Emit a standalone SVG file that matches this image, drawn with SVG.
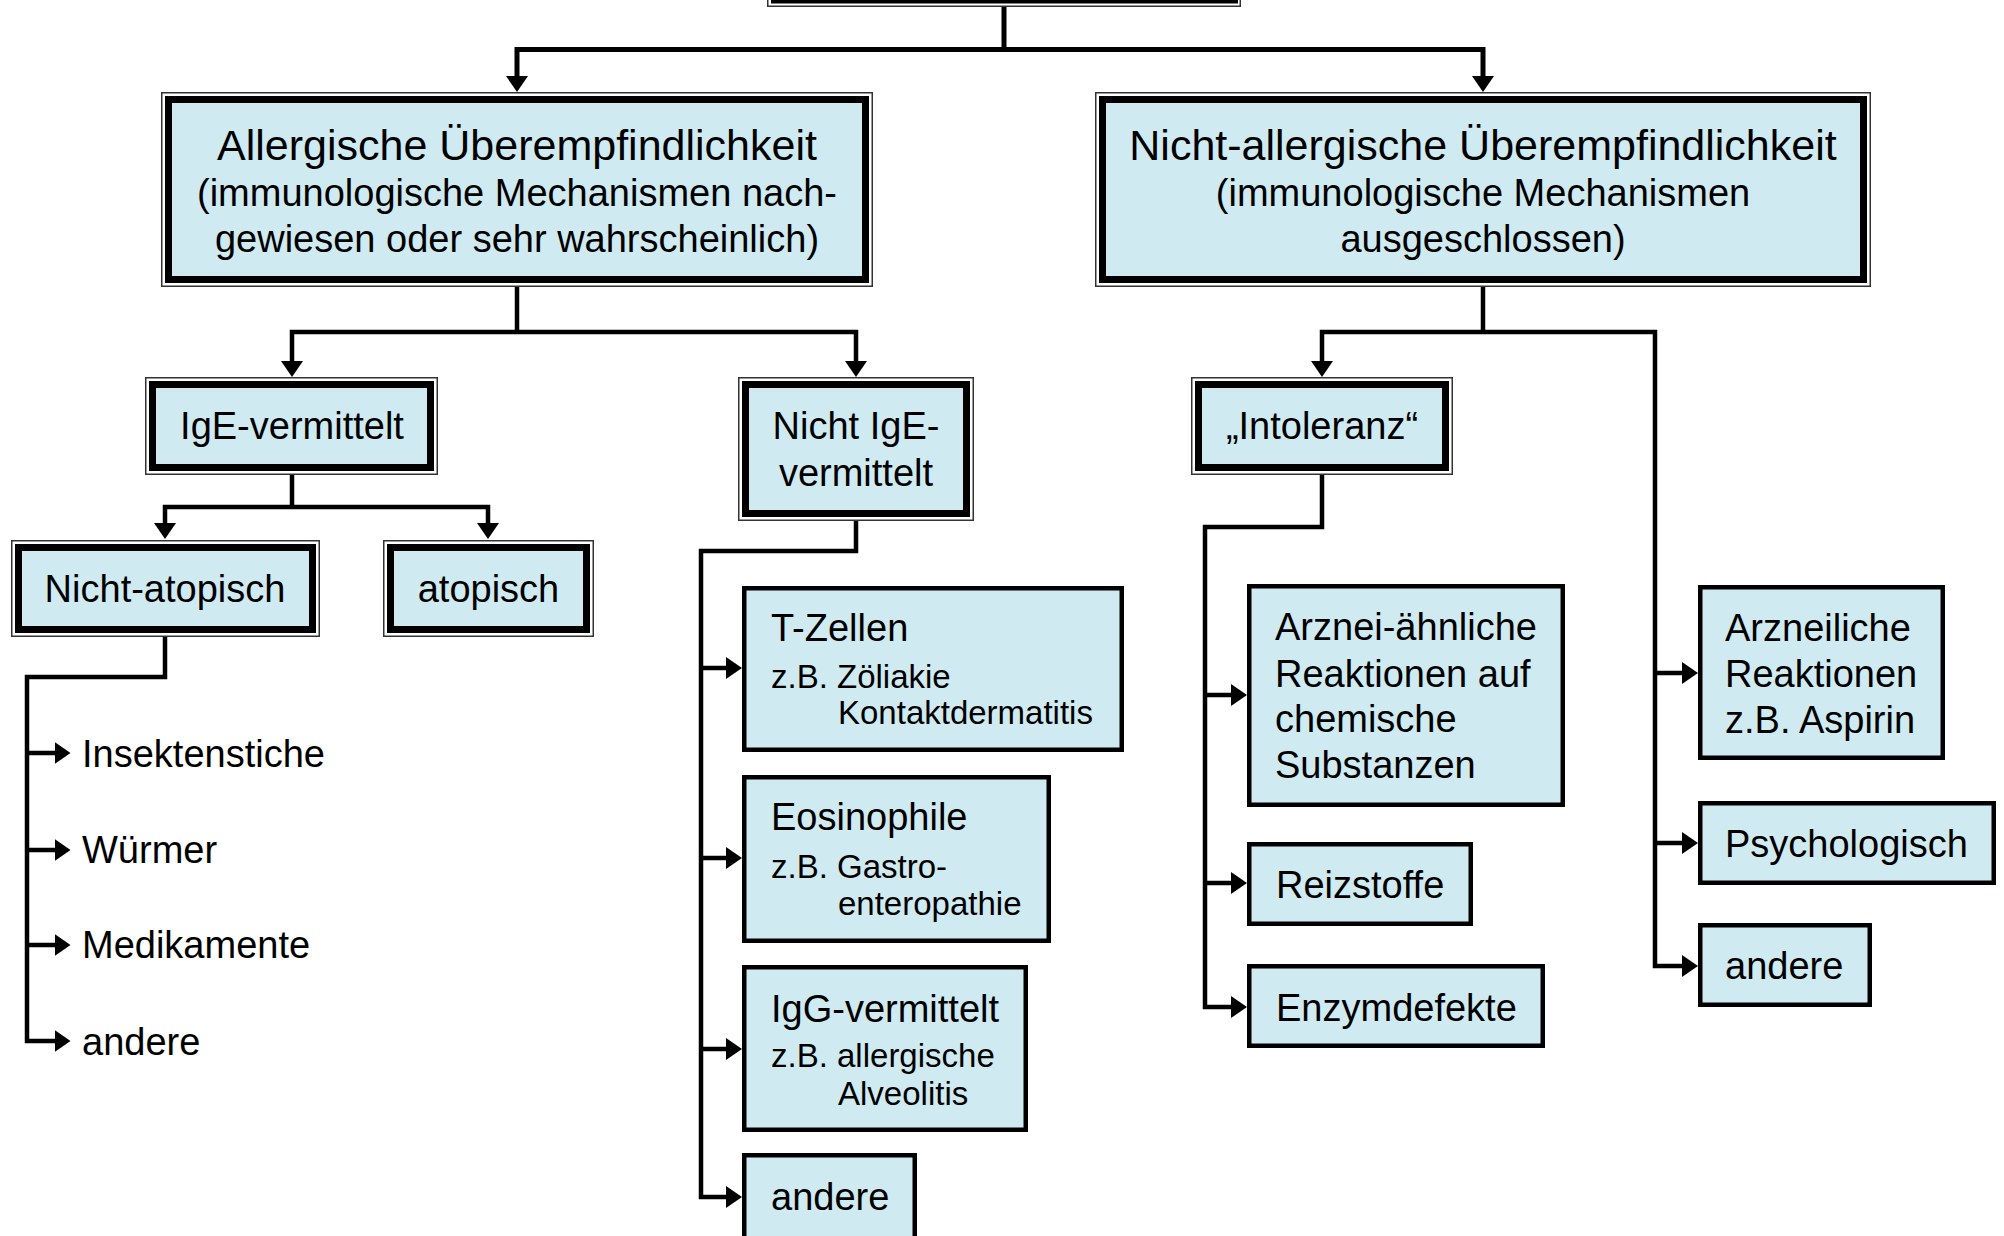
<svg xmlns="http://www.w3.org/2000/svg" width="2004" height="1236" viewBox="0 0 2004 1236">
<style>
.bg{fill:#fff}
.outer{fill:#fff;stroke:#333;stroke-width:1.5}
.inner{fill:#CFEBF1;stroke:#000;stroke-width:7}
.single{fill:#CFEBF1;stroke:#000;stroke-width:4.5}
.con{fill:none;stroke:#000;stroke-width:4.5;stroke-linejoin:miter;stroke-linecap:butt}
.con5{fill:none;stroke:#000;stroke-width:5;stroke-linejoin:miter;stroke-linecap:butt}
text{font-family:"Liberation Sans",Arial,sans-serif;fill:#000}
.t43{font-size:43px}
.t38{font-size:38px}
.t33{font-size:33px}
.c{text-anchor:middle}
</style>
<defs>
<marker id="arr" markerUnits="userSpaceOnUse" markerWidth="18" markerHeight="24" viewBox="0 0 18 24" refX="10" refY="11" orient="auto">
<path d="M0,0 L16,11 L0,22 z" fill="#000"/>
</marker>
</defs>
<rect class="bg" x="0" y="0" width="2004" height="1236"/>

<g id="connectors">
<path class="con5" d="M1004,7 V49.5"/>
<path class="con5" d="M1004,49.5 H517 V86" marker-end="url(#arr)"/>
<path class="con5" d="M1004,49.5 H1483 V86" marker-end="url(#arr)"/>

<path class="con" d="M517,287 V332"/>
<path class="con" d="M517,332 H292 V371" marker-end="url(#arr)"/>
<path class="con" d="M517,332 H856 V371" marker-end="url(#arr)"/>

<path class="con" d="M1483,287 V332"/>
<path class="con" d="M1483,332 H1322 V371" marker-end="url(#arr)"/>
<path class="con" d="M1483,332 H1655 V966 H1692" marker-end="url(#arr)"/>
<path class="con" d="M1655,673 H1692" marker-end="url(#arr)"/>
<path class="con" d="M1655,843 H1692" marker-end="url(#arr)"/>

<path class="con" d="M1322,475 V527 H1205 V1007 H1241" marker-end="url(#arr)"/>
<path class="con" d="M1205,695 H1241" marker-end="url(#arr)"/>
<path class="con" d="M1205,883 H1241" marker-end="url(#arr)"/>

<path class="con" d="M292,475 V507"/>
<path class="con" d="M292,507 H165 V533" marker-end="url(#arr)"/>
<path class="con" d="M292,507 H488 V533" marker-end="url(#arr)"/>

<path class="con" d="M856,521 V551 H701 V1197 H736" marker-end="url(#arr)"/>
<path class="con" d="M701,668 H736" marker-end="url(#arr)"/>
<path class="con" d="M701,858 H736" marker-end="url(#arr)"/>
<path class="con" d="M701,1049 H736" marker-end="url(#arr)"/>

<path class="con" d="M165,637 V677 H27 V1041 H64.5" marker-end="url(#arr)"/>
<path class="con" d="M27,753 H64.5" marker-end="url(#arr)"/>
<path class="con" d="M27,850 H64.5" marker-end="url(#arr)"/>
<path class="con" d="M27,945 H64.5" marker-end="url(#arr)"/>
</g>

<g id="top">
<rect class="outer" x="767.75" y="-99" width="472.5" height="105.25"/>
<rect class="inner" x="774.5" y="-93" width="460" height="93"/>
</g>

<g id="allergisch">
<rect class="outer" x="161.75" y="92.75" width="710.5" height="193.5"/>
<rect class="inner" x="168.5" y="99.5" width="697" height="180"/>
<text class="t43 c" x="517" y="160">Allergische Überempfindlichkeit</text>
<text class="t38 c" x="517" y="206">(immunologische Mechanismen nach-</text>
<text class="t38 c" x="517" y="252">gewiesen oder sehr wahrscheinlich)</text>
</g>

<g id="nicht-allergisch">
<rect class="outer" x="1095.75" y="92.75" width="774.5" height="193.5"/>
<rect class="inner" x="1102.5" y="99.5" width="761" height="180"/>
<text class="t43 c" x="1483" y="160">Nicht-allergische Überempfindlichkeit</text>
<text class="t38 c" x="1483" y="206">(immunologische Mechanismen</text>
<text class="t38 c" x="1483" y="252">ausgeschlossen)</text>
</g>

<g id="ige">
<rect class="outer" x="145.75" y="377.75" width="291.5" height="96.5"/>
<rect class="inner" x="152.5" y="384.5" width="278" height="83"/>
<text class="t38 c" x="292" y="439">IgE-vermittelt</text>
</g>

<g id="nicht-ige">
<rect class="outer" x="738.75" y="377.75" width="234.5" height="142.5"/>
<rect class="inner" x="745.5" y="384.5" width="221" height="129"/>
<text class="t38 c" x="856" y="439">Nicht IgE-</text>
<text class="t38 c" x="856" y="486">vermittelt</text>
</g>

<g id="intoleranz">
<rect class="outer" x="1191.75" y="377.75" width="260.5" height="96.5"/>
<rect class="inner" x="1198.5" y="384.5" width="247" height="83"/>
<text class="t38 c" x="1322" y="439">„Intoleranz“</text>
</g>

<g id="nicht-atopisch">
<rect class="outer" x="11.75" y="540.75" width="307.5" height="95.5"/>
<rect class="inner" x="18.5" y="547.5" width="294" height="82"/>
<text class="t38 c" x="165" y="602">Nicht-atopisch</text>
</g>

<g id="atopisch">
<rect class="outer" x="383.75" y="540.75" width="209.5" height="95.5"/>
<rect class="inner" x="390.5" y="547.5" width="196" height="82"/>
<text class="t38 c" x="488.5" y="602">atopisch</text>
</g>

<g id="insektenstiche"><text class="t38" x="82" y="767">Insektenstiche</text></g>
<g id="wuermer"><text class="t38" x="82" y="863">Würmer</text></g>
<g id="medikamente"><text class="t38" x="82" y="958">Medikamente</text></g>
<g id="andere-links"><text class="t38" x="82" y="1055">andere</text></g>

<g id="t-zellen">
<rect class="single" x="744.25" y="588.25" width="377.5" height="161.5"/>
<text class="t38" x="771" y="641">T-Zellen</text>
<text class="t33" x="771" y="688">z.B. Zöliakie</text>
<text class="t33" x="838" y="724">Kontaktdermatitis</text>
</g>

<g id="eosinophile">
<rect class="single" x="744.25" y="777.25" width="304.5" height="163.5"/>
<text class="t38" x="771" y="830">Eosinophile</text>
<text class="t33" x="771" y="878">z.B. Gastro-</text>
<text class="t33" x="838" y="915">enteropathie</text>
</g>

<g id="igg">
<rect class="single" x="744.25" y="967.25" width="281.5" height="162.5"/>
<text class="t38" x="771" y="1022">IgG-vermittelt</text>
<text class="t33" x="771" y="1067">z.B. allergische</text>
<text class="t33" x="838" y="1105">Alveolitis</text>
</g>

<g id="andere-mitte">
<rect class="single" x="744.25" y="1155.25" width="170.5" height="100"/>
<text class="t38" x="771" y="1210">andere</text>
</g>

<g id="arznei-aehnlich">
<rect class="single" x="1249.25" y="586.25" width="313.5" height="218.5"/>
<text class="t38" x="1275" y="640">Arznei-ähnliche</text>
<text class="t38" x="1275" y="687">Reaktionen auf</text>
<text class="t38" x="1275" y="732">chemische</text>
<text class="t38" x="1275" y="778">Substanzen</text>
</g>

<g id="reizstoffe">
<rect class="single" x="1249.25" y="844.25" width="221.5" height="79.5"/>
<text class="t38" x="1276" y="898">Reizstoffe</text>
</g>

<g id="enzymdefekte">
<rect class="single" x="1249.25" y="966.25" width="293.5" height="79.5"/>
<text class="t38" x="1276" y="1021">Enzymdefekte</text>
</g>

<g id="arzneiliche">
<rect class="single" x="1700.25" y="587.25" width="242.5" height="170.5"/>
<text class="t38" x="1725" y="641">Arzneiliche</text>
<text class="t38" x="1725" y="687">Reaktionen</text>
<text class="t38" x="1725" y="733">z.B. Aspirin</text>
</g>

<g id="psychologisch">
<rect class="single" x="1700.25" y="803.25" width="293.5" height="79.5"/>
<text class="t38" x="1725" y="857">Psychologisch</text>
</g>

<g id="andere-rechts">
<rect class="single" x="1700.25" y="925.25" width="169.5" height="79.5"/>
<text class="t38" x="1725" y="979">andere</text>
</g>
</svg>
